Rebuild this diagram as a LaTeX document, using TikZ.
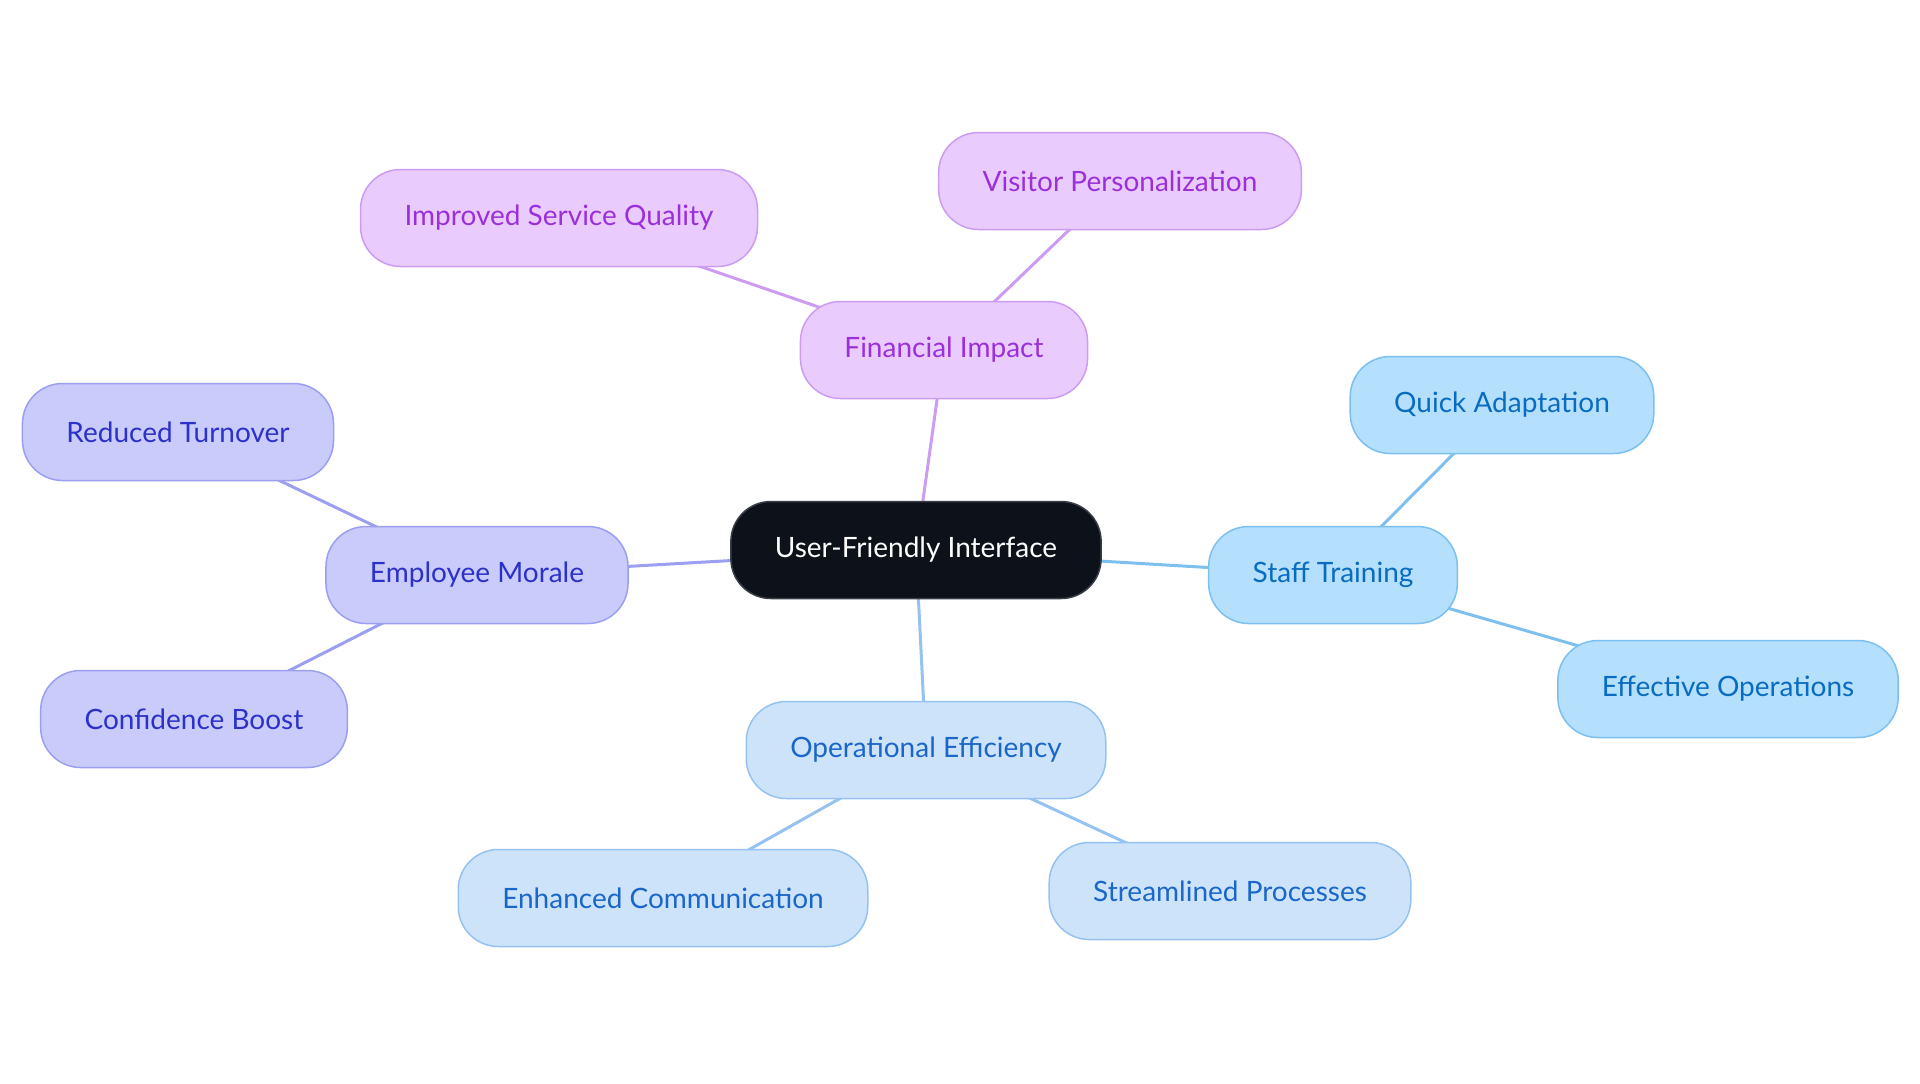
\documentclass[tikz,border=0pt]{standalone}
\usepackage{fontspec}
\setmainfont{Lato}
\usetikzlibrary{backgrounds}

\definecolor{hubfill}{HTML}{0D121A}
\definecolor{hubline}{HTML}{3A3F47}
\definecolor{finfill}{HTML}{E9CBFD}
\definecolor{finline}{HTML}{CC9CF2}
\definecolor{fintext}{HTML}{9B30DB}
\definecolor{stafill}{HTML}{B4DFFD}
\definecolor{staline}{HTML}{7DC0F0}
\definecolor{statext}{HTML}{0A6CC0}
\definecolor{empfill}{HTML}{C9CBFB}
\definecolor{empline}{HTML}{9A9FF0}
\definecolor{emptext}{HTML}{2B31C9}
\definecolor{opefill}{HTML}{CDE3FA}
\definecolor{opeline}{HTML}{95C2F0}
\definecolor{opetext}{HTML}{1A66C9}

\begin{document}
\begin{tikzpicture}[x=0.5pt,y=-0.5pt]
        \tikzstyle{every node}=[rounded corners=20pt, minimum height=48.5pt, inner xsep=22pt,
                                line width=0.75pt, font=\fontsize{14}{17}\selectfont]
        \tikzstyle{hub}=[draw=hubline, fill=hubfill, text=white]
        \tikzstyle{fin}=[draw=finline, fill=finfill, text=fintext]
        \tikzstyle{sta}=[draw=staline, fill=stafill, text=statext]
        \tikzstyle{emp}=[draw=empline, fill=empfill, text=emptext]
        \tikzstyle{ope}=[draw=opeline, fill=opefill, text=opetext]
        \tikzstyle{link}=[line width=1.5pt]

        \useasboundingbox (0,0) rectangle (1920,1083);

        \node[hub] (ui)      at (916,550)  {User-Friendly Interface};

        \node[fin] (fin)     at (944,350)  {Financial Impact};
        \node[fin] (service) at (559,218)  {Improved Service Quality};
        \node[fin] (visitor) at (1120,181) {Visitor Personalization};

        \node[sta] (staff)   at (1333,575) {Staff Training};
        \node[sta] (quick)   at (1502,405) {Quick Adaptation};
        \node[sta] (effect)  at (1728,689) {Effective Operations};

        \node[ope] (opeff)   at (926,750)  {Operational Efficiency};
        \node[ope] (comm)    at (663,898)  {Enhanced Communication};
        \node[ope] (stream)  at (1230,891) {Streamlined Processes};

        \node[emp] (morale)  at (477,575)  {Employee Morale};
        \node[emp] (turn)    at (178,432)  {Reduced Turnover};
        \node[emp] (conf)    at (194,719)  {Confidence Boost};

        \begin{scope}[on background layer]
            \draw[link, finline] (ui.center) -- (fin.center)
                                 (fin.center) -- (service.center)
                                 (fin.center) -- (visitor.center);
            \draw[link, staline] (ui.center) -- (staff.center)
                                 (staff.center) -- (quick.center)
                                 (staff.center) -- (effect.center);
            \draw[link, opeline] (ui.center) -- (opeff.center)
                                 (opeff.center) -- (comm.center)
                                 (opeff.center) -- (stream.center);
            \draw[link, empline] (ui.center) -- (morale.center)
                                 (morale.center) -- (turn.center)
                                 (morale.center) -- (conf.center);
        \end{scope}

    \end{tikzpicture}
\end{document}
